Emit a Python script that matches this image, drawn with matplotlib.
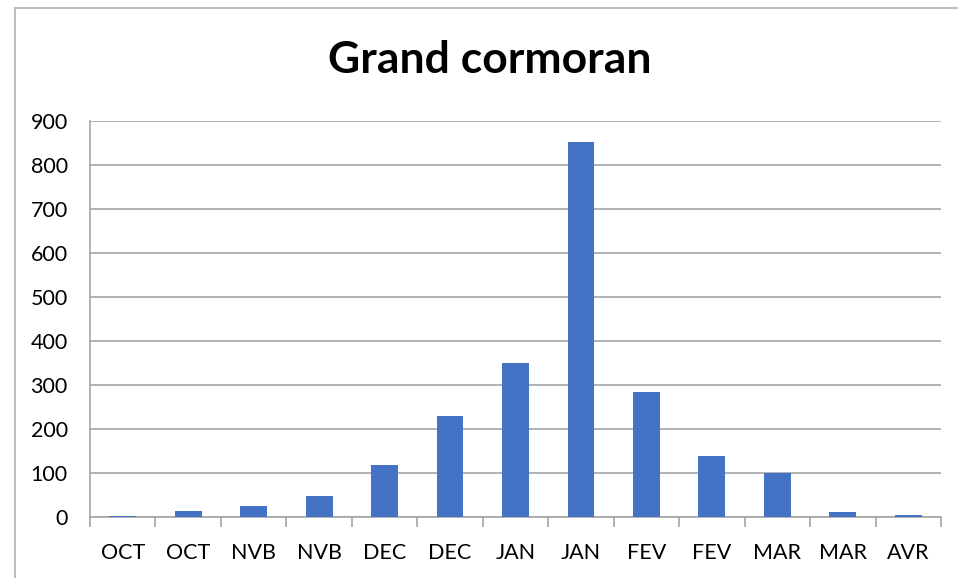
import matplotlib.pyplot as plt
from matplotlib.lines import Line2D

months = ['OCT', 'OCT', 'NVB', 'NVB', 'DEC', 'DEC', 'JAN', 'JAN',
          'FEV', 'FEV', 'MAR', 'MAR', 'AVR']
counts = [3, 13, 24, 47, 119, 230, 350, 852, 284, 139, 100, 11, 5]
yticks = [0, 100, 200, 300, 400, 500, 600, 700, 800, 900]

plt.rcParams['font.family'] = ['Lato', 'DejaVu Sans']

fig = plt.figure(figsize=(9.58, 5.78), dpi=100)
ax = fig.add_axes([90 / 958, 61 / 578, 851 / 958, 396 / 578])

x = range(len(months))
ax.bar(x, counts, width=0.41, color='#4472C4', zorder=3)

ax.set_ylim(0, 900)
ax.set_xlim(-0.5, len(months) - 0.5)
ax.set_yticks(yticks)
ax.set_xticks(list(x))
ax.set_xticklabels(months)
ax.set_xticks([i - 0.5 for i in range(len(months) + 1)], minor=True)
ax.tick_params(axis='x', which='major', length=0, pad=19, labelsize=15.5)
ax.tick_params(axis='x', which='minor', length=7, color='#a6a6a6', width=1.2)
ax.tick_params(axis='y', length=0, pad=16, labelsize=15.5)

ax.grid(axis='y', color='#a6a6a6', linewidth=1.2, zorder=0)
for s in ['top', 'right']:
    ax.spines[s].set_visible(False)
ax.spines['left'].set_color('#a6a6a6')
ax.spines['bottom'].set_color('#a6a6a6')
ax.spines['left'].set_linewidth(1.2)
ax.spines['bottom'].set_linewidth(1.2)

fig.text(490 / 958, 1 - 60 / 578, 'Grand cormoran', ha='center', va='center',
         fontsize=32, fontweight='bold')

# chart frame
fig.add_artist(Line2D([15 / 958, 15 / 958], [0, 1 - 8 / 578],
                      transform=fig.transFigure, color='#b0b0b0', lw=1.2))
fig.add_artist(Line2D([15 / 958, 1], [1 - 8 / 578, 1 - 8 / 578],
                      transform=fig.transFigure, color='#b0b0b0', lw=1.2))

fig.savefig('out.png', dpi=100)
